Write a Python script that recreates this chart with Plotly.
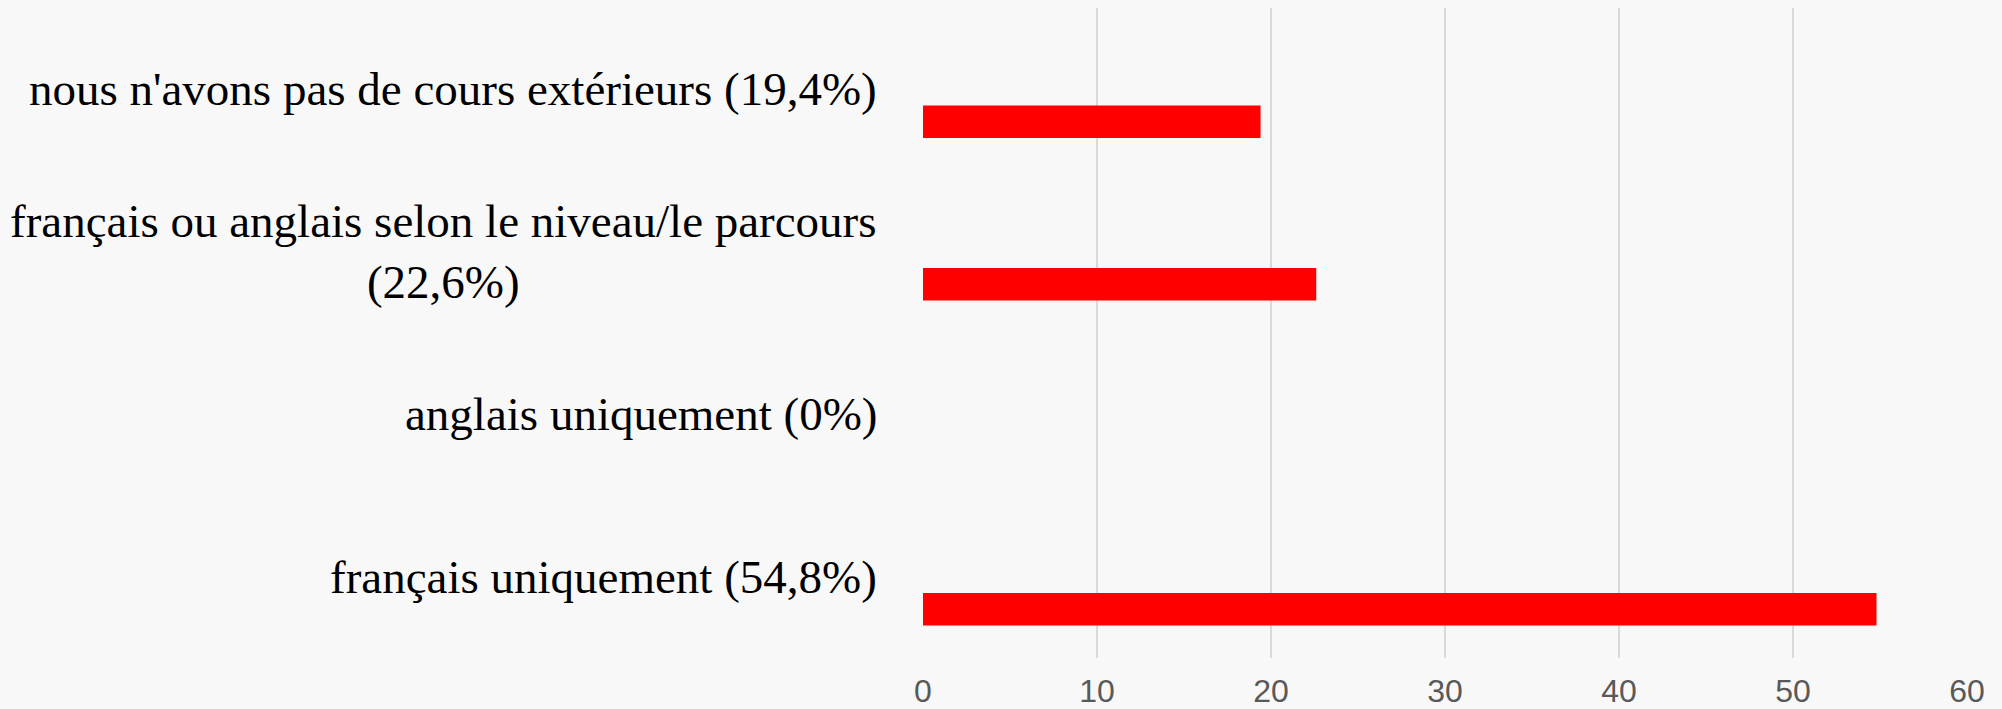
import plotly.graph_objects as go

# categories bottom -> top (plotly draws the first category at the bottom)
categories = [
    "français uniquement (54,8%)",
    "anglais uniquement (0%)",
    "français ou anglais selon le niveau/le parcours<br>(22,6%)",
    "nous n'avons pas de cours extérieurs (19,4%)",
]
values = [54.8, 0, 22.6, 19.4]
x_ticks = [0, 10, 20, 30, 40, 50, 60]

fig = go.Figure(go.Bar(
    y=list(range(len(categories))),
    x=values,
    orientation="h",
    marker=dict(color="#ff0000", line_width=0),
    offset=-0.3,
    width=0.2,
    hoverinfo="x",
))

# category labels as annotations so the two-line label stays centred
for i, label in enumerate(categories):
    fig.add_annotation(
        x=0, xref="paper", y=i, yref="y",
        text=label, showarrow=False,
        xanchor="right", yanchor="middle", align="center",
        xshift=-44,
        font=dict(family="Liberation Serif", size=47, color="#000000"),
    )

fig.update_xaxes(
    range=[0, 60], tickvals=x_ticks, ticks="",
    showgrid=True, gridcolor="#d9d9d9", gridwidth=2,
    zeroline=False, showline=False, automargin=False,
    tickfont=dict(family="Liberation Sans", size=32, color="#595959"),
    ticklabelstandoff=11,
)
fig.update_yaxes(
    range=[-0.5, 3.5], showticklabels=False, showgrid=False,
    zeroline=False, showline=False, ticks="", automargin=False,
)
fig.update_layout(
    width=2002, height=709,
    margin=dict(l=923, r=35, t=8, b=51),
    paper_bgcolor="#f8f8f8", plot_bgcolor="#f8f8f8",
    showlegend=False,
)

fig.write_html(
    "out.html",
    config={"displayModeBar": False},
    post_script="document.body.style.margin='0';document.body.style.background='#f8f8f8';",
)
